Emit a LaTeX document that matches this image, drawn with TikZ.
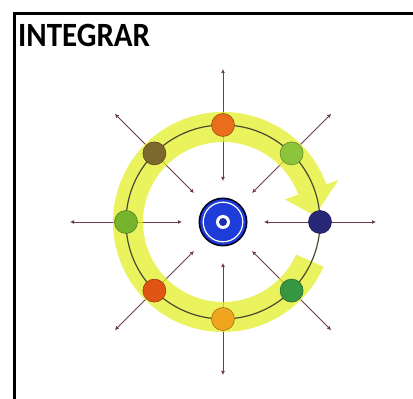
\documentclass[tikz,border=0pt]{standalone}
\usepackage{fontspec}
\setmainfont{Carlito}
\usetikzlibrary{arrows.meta,calc}
\definecolor{bandyellow}{RGB}{228,238,40}
\definecolor{ringline}{RGB}{70,74,50}
\definecolor{spoke}{RGB}{110,60,72}
\definecolor{tblue}{RGB}{30,60,215}
\definecolor{dorange}{RGB}{232,110,28}
\definecolor{dolive}{RGB}{125,105,45}
\definecolor{dlgreen}{RGB}{140,196,60}
\definecolor{dgreen}{RGB}{118,180,46}
\definecolor{dnavy}{RGB}{40,40,120}
\definecolor{dred}{RGB}{225,85,20}
\definecolor{dyellow}{RGB}{240,165,30}
\definecolor{dteal}{RGB}{55,150,65}
\tikzset{
  spokeline/.style={draw=spoke, line width=0.9pt, {Latex[length=4pt,width=4pt]}-{Latex[length=4pt,width=4pt]}},
  ball/.style={circle, minimum size=23pt, inner sep=0pt, fill=#1, draw=#1!70!black, line width=0.6pt},
  titletext/.style={anchor=base west, inner sep=0pt, font=\fontsize{34}{40}\selectfont\bfseries},
  band/.style={fill=bandyellow, fill opacity=0.75}
}
\begin{document}
\begin{tikzpicture}[x=1pt,y=1pt]
\useasboundingbox (0,0) rectangle (413,399);
\fill[white] (0,0) rectangle (413,399);
% frame
\draw[black, line width=3pt] (14,-5) -- (14,385) -- (420,385);
% title
\node[titletext] (title) at (18,352) {\scalebox{0.91}[1]{INTEGRAR}};
% center
\coordinate (c) at (223,177);
% spokes
\foreach \a/\n in {90/t,135/tl,45/tr,180/l,0/r,225/bl,270/b,315/br}{
  \coordinate (in\n) at ($(c)+(\a:41)$);
  \coordinate (out\n) at ($(c)+(\a:153)$);
  \draw[spokeline] (in\n) -- (out\n);
}
% yellow band with arrow
\fill[band] ($(c)+(-24:110)$) arc[start angle=-24, end angle=-340, radius=110]
  -- ($(c)+(20:123)$) -- ($(c)+(4:92)$) -- ($(c)+(20:66)$) -- ($(c)+(20:80)$)
  arc[start angle=-340, end angle=-24, radius=80] -- cycle;
% ring line
\draw[ringline, line width=1.2pt] (c) circle[radius=97];
% balls
\node[ball=dorange] (n1) at ($(c)+(90:97)$) {};
\node[ball=dolive] (n2) at ($(c)+(135:97)$) {};
\node[ball=dlgreen] (n3) at ($(c)+(45:97)$) {};
\node[ball=dgreen] (n4) at ($(c)+(180:97)$) {};
\node[ball=dnavy] (n5) at ($(c)+(0:97)$) {};
\node[ball=dred] (n6) at ($(c)+(225:97)$) {};
\node[ball=dyellow] (n7) at ($(c)+(270:97)$) {};
\node[ball=dteal] (n8) at ($(c)+(315:97)$) {};
% target
\fill[black!85!blue] (c) circle[radius=24.5];
\fill[tblue] (c) circle[radius=22.8];
\draw[white, line width=1.2pt] (c) circle[radius=19.8];
\fill[white] (c) circle[radius=7];
\node[circle, fill=tblue!80!black, minimum size=8pt, inner sep=0pt] (target) at (c) {};
\end{tikzpicture}
\end{document}
